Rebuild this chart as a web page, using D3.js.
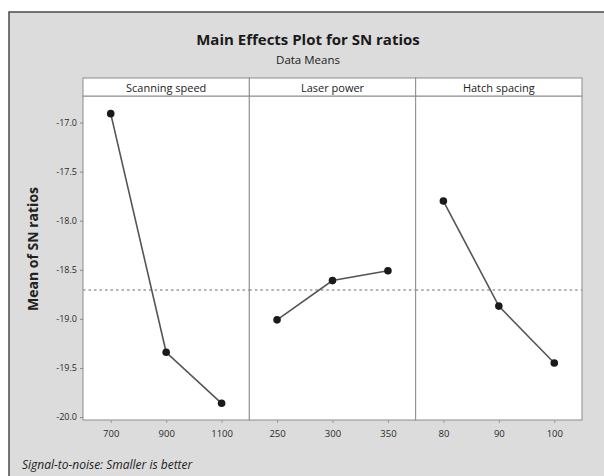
<!DOCTYPE html>
<html>
<head>
<meta charset="utf-8">
<script src="https://cdn.jsdelivr.net/npm/d3@7"></script>
<style>
  html, body { margin: 0; padding: 0; background: #ffffff; }
  svg { display: block; }
  text { font-family: "Open Sans", "DejaVu Sans", sans-serif; }
</style>
</head>
<body>
<svg id="chart" width="604" height="476"></svg>
<script>
// Factors of the Taguchi design and the mean S/N ratio at each level
const factors = ["Scanning speed", "Laser power", "Hatch spacing"];
const scanningLevels = ["700", "900", "1100"];
const scanningMeans = [-16.91, -19.34, -19.86];
const laserLevels = ["250", "300", "350"];
const laserMeans = [-19.01, -18.61, -18.51];
const hatchLevels = ["80", "90", "100"];
const hatchMeans = [-17.80, -18.87, -19.45];
const yTicks = [-17.0, -17.5, -18.0, -18.5, -19.0, -19.5, -20.0];

const levels = [scanningLevels, laserLevels, hatchLevels];
const means = [scanningMeans, laserMeans, hatchMeans];
const grandMean = d3.mean(means.flat());

const svg = d3.select("#chart");
const W = 604, H = 476;

// Outer frame
svg.append("rect").attr("x", 0).attr("y", 0).attr("width", W).attr("height", H).attr("fill", "#ffffff");
svg.append("rect").attr("x", 9).attr("y", 12).attr("width", W + 10).attr("height", H)
  .attr("fill", "#dcdcdc").attr("stroke", "#4a4a4a").attr("stroke-width", 1.5);

// Titles
svg.append("text").attr("x", 308).attr("y", 45).attr("text-anchor", "middle")
  .attr("font-size", 15).attr("font-weight", "bold").attr("fill", "#1a1a1a")
  .text("Main Effects Plot for SN ratios");
svg.append("text").attr("x", 308).attr("y", 64).attr("text-anchor", "middle")
  .attr("font-size", 11.5).attr("fill", "#1a1a1a").text("Data Means");

const plotLeft = 83, plotRight = 582;
const stripTop = 78, stripBottom = 96, plotBottom = 420;
const panelW = (plotRight - plotLeft) / factors.length;

const y = d3.scaleLinear().domain([-20.03, -16.73]).range([plotBottom, stripBottom]);
const fmt = d => d3.format(".1f")(d).replace("\u2212", "-");

// Y axis
const yAxis = svg.append("g").attr("transform", `translate(${plotLeft},0)`)
  .call(d3.axisLeft(y).tickValues(yTicks).tickFormat(fmt).tickSize(3).tickPadding(3));
yAxis.select(".domain").remove();
yAxis.selectAll(".tick line").attr("stroke", "#888");
yAxis.selectAll(".tick text").attr("font-size", 9).attr("fill", "#2a2a2a")
  .style("font-family", '"Open Sans", sans-serif');

svg.append("text")
  .attr("transform", "translate(38,249) rotate(-90)")
  .attr("text-anchor", "middle").attr("font-size", 14).attr("font-weight", "bold")
  .attr("fill", "#222").text("Mean of SN ratios");

factors.forEach((f, i) => {
  const x0 = plotLeft + i * panelW;
  const g = svg.append("g");
  const x = d3.scalePoint().domain(levels[i]).range([x0, x0 + panelW]).padding(0.5);

  // Panel and strip
  g.append("rect").attr("x", x0).attr("y", stripBottom).attr("width", panelW)
    .attr("height", plotBottom - stripBottom).attr("fill", "#ffffff")
    .attr("stroke", "#8c8c8c").attr("stroke-width", 1);
  g.append("rect").attr("x", x0).attr("y", stripTop).attr("width", panelW)
    .attr("height", stripBottom - stripTop).attr("fill", "#ffffff")
    .attr("stroke", "#8c8c8c").attr("stroke-width", 1);
  g.append("text").attr("x", x0 + panelW / 2).attr("y", stripBottom - 4.5)
    .attr("text-anchor", "middle").attr("font-size", 11).attr("fill", "#222").text(f);

  // Grand mean reference line
  g.append("line").attr("x1", x0).attr("x2", x0 + panelW)
    .attr("y1", y(grandMean)).attr("y2", y(grandMean))
    .attr("stroke", "#9a9a9a").attr("stroke-width", 1.5).attr("stroke-dasharray", "2.5,3");

  // X axis
  const xAxis = g.append("g").attr("transform", `translate(0,${plotBottom})`)
    .call(d3.axisBottom(x).tickSize(3).tickPadding(7));
  xAxis.select(".domain").remove();
  xAxis.selectAll(".tick line").attr("stroke", "#999");
  xAxis.selectAll(".tick text").attr("font-size", 9.5).attr("fill", "#2a2a2a")
    .style("font-family", '"Open Sans", sans-serif');

  // Main effect line and points
  const pts = levels[i].map((l, j) => [x(l), y(means[i][j])]);
  g.append("path").attr("d", d3.line()(pts)).attr("fill", "none")
    .attr("stroke", "#555").attr("stroke-width", 1.6);
  g.selectAll("circle").data(pts).join("circle")
    .attr("cx", d => d[0]).attr("cy", d => d[1]).attr("r", 3.8).attr("fill", "#1a1a1a");
});

// Footnote
svg.append("text").attr("x", 22).attr("y", 469).attr("font-size", 12)
  .attr("font-style", "italic").attr("fill", "#222")
  .text("Signal-to-noise: Smaller is better");
</script>
</body>
</html>
